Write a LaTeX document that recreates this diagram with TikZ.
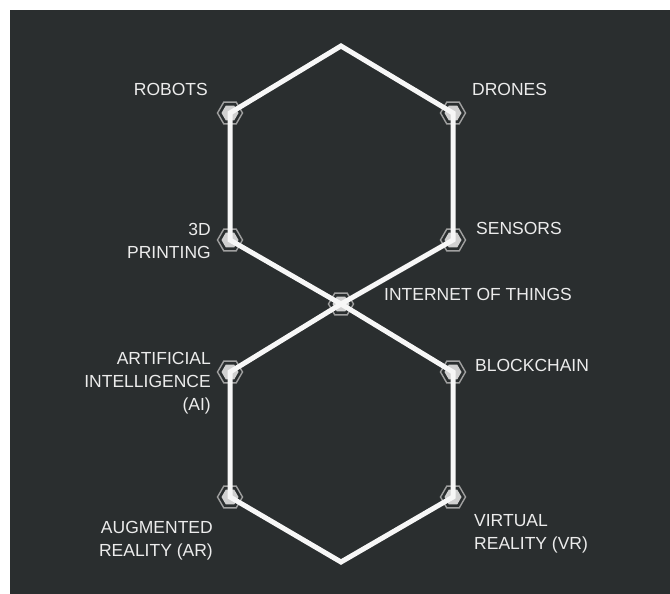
\documentclass[tikz,border=0pt]{standalone}
\usepackage{fontspec}
\setmainfont{Liberation Sans}
\usetikzlibrary{shapes.geometric}
\definecolor{bgdark}{HTML}{2A2E2F}
\definecolor{linewhite}{HTML}{F7F7F7}
\definecolor{rimgray}{HTML}{A0A0A0}
\definecolor{coregray}{HTML}{D0D0D0}
\definecolor{labeltext}{HTML}{ECECEC}
\begin{document}
\begin{tikzpicture}[x=1pt,y=-1pt,
  hexmark/.style={regular polygon, regular polygon sides=6, minimum size=25pt,
    inner sep=0pt, draw=rimgray, line width=1.4pt, fill=bgdark},
  hexline/.style={draw=linewhite, line width=5pt, line join=miter},
  lbl/.style={text=labeltext, font=\fontsize{17.5}{23}\selectfont, inner sep=0pt},
  lbll/.style={lbl, anchor=north west, align=left},
  lblr/.style={lbl, anchor=north east, align=right}]

% canvas and dark panel
\fill[white] (0,0) rectangle (670,594);
\fill[bgdark] (10,10) rectangle (670,594);

% hexagon corners
\coordinate (t) at (341,46);
\coordinate (b) at (341,562);
\node[hexmark] (ul)  at (230,113) {};
\node[hexmark] (ll)  at (230,240) {};
\node[hexmark] (ur)  at (453,113) {};
\node[hexmark] (lr)  at (453,240) {};
\node[hexmark] (c)   at (341,304) {};
\node[hexmark] (ail) at (230,372) {};
\node[hexmark] (bcr) at (453,372) {};
\node[hexmark] (arl) at (230,497) {};
\node[hexmark] (vrr) at (453,497) {};

% light cores of the corner markers
\foreach \n in {ul,ll,ur,lr,c,ail,bcr,arl,vrr}
  \fill[coregray] (\n.center) +(0:8.5) -- +(60:8.5) -- +(120:8.5)
    -- +(180:8.5) -- +(240:8.5) -- +(300:8.5) -- cycle;

% the two hexagons meeting at the middle
\draw[hexline] (t) -- (ul.center) -- (ll.center) -- (c.center)
  -- (lr.center) -- (ur.center) -- cycle;
\draw[hexline] (c.center) -- (ail.center) -- (arl.center) -- (b)
  -- (vrr.center) -- (bcr.center) -- cycle;

% labels
\node[lblr] (robots)  at (208,83.5) {ROBOTS};
\node[lbll] (drones)  at (472,83.5) {DRONES};
\node[lblr] (print)   at (211,223)  {3D\\PRINTING};
\node[lbll] (sensors) at (476,222)  {SENSORS};
\node[lbll] (iot)     at (384,288)  {INTERNET OF THINGS};
\node[lblr] (ai)      at (211,352)  {ARTIFICIAL\\INTELLIGENCE\\(AI)};
\node[lbll] (chain)   at (475,359)  {BLOCKCHAIN};
\node[lblr] (ar)      at (213,521)  {AUGMENTED\\REALITY (AR)};
\node[lbll] (vr)      at (474,514)  {VIRTUAL\\REALITY (VR)};
\end{tikzpicture}
\end{document}
